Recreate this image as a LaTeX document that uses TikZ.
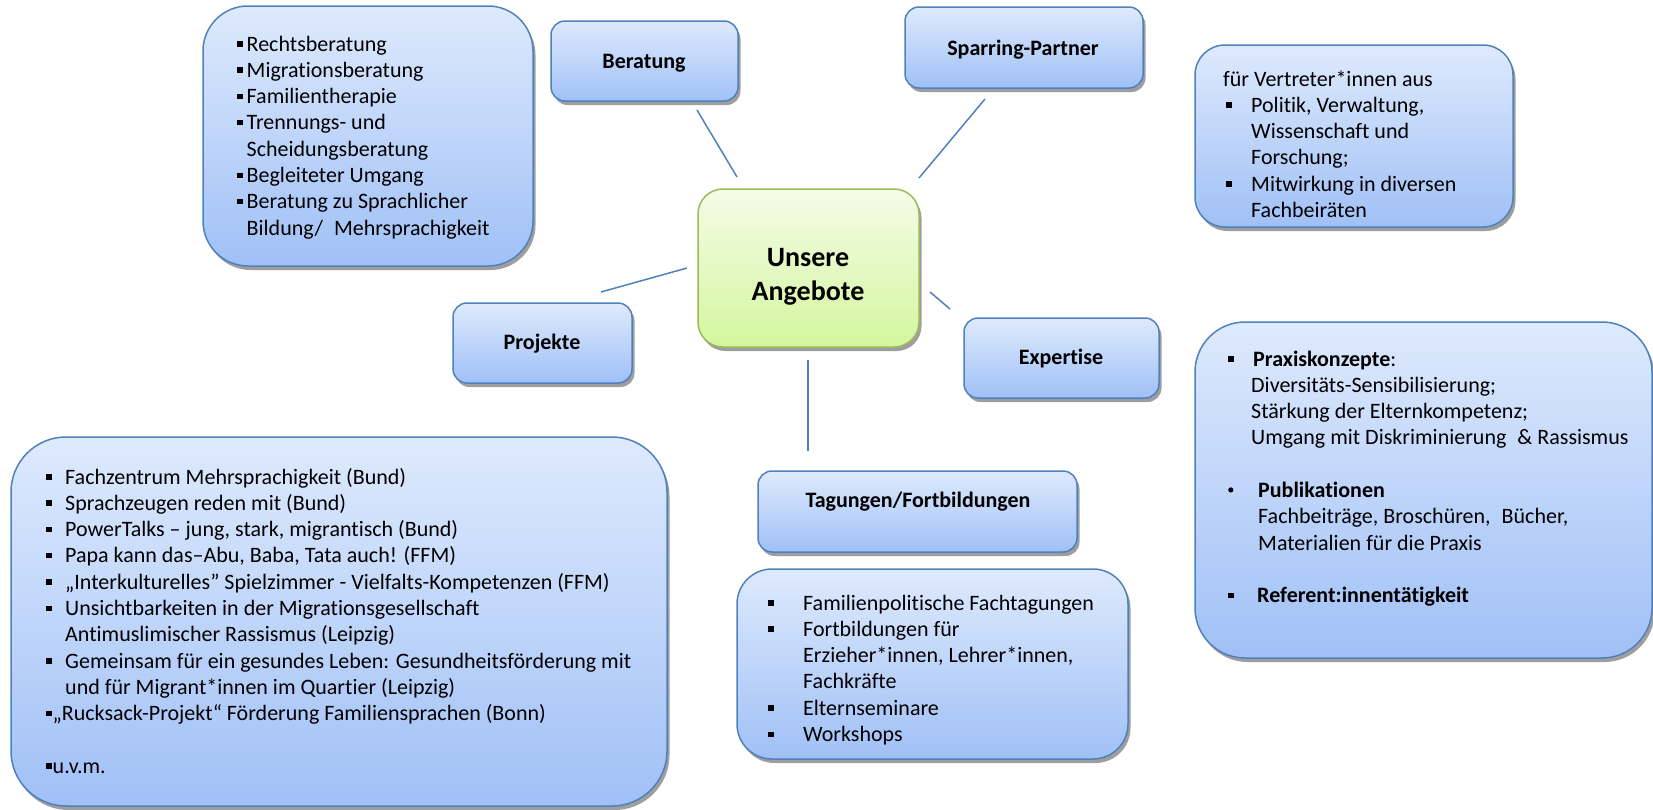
\documentclass[tikz,border=0pt]{standalone}
\usepackage{fontspec}
\setmainfont{Carlito}[Ligatures={NoCommon}]
\usetikzlibrary{shadows}

\definecolor{boxline}{RGB}{79,129,189}
\definecolor{boxtop}{RGB}{222,234,253}
\definecolor{boxbot}{RGB}{160,192,246}
\definecolor{greenline}{RGB}{155,187,89}
\definecolor{greentop}{RGB}{244,252,232}
\definecolor{greenbot}{RGB}{212,246,158}

% small square bullet, small round bullet and a top-aligned block of list text
\newcommand{\sqb}{\rule[4.5pt]{5.5pt}{5.5pt}}
\newcommand{\rdb}{\raisebox{5pt}{\tikz\fill (0,0) circle (2.6pt);}}
\newcommand{\listtext}[2]{\parbox[t]{#1}{\fontsize{22}{26.3}\selectfont #2}}

\tikzset{
  panel/.style={draw=boxline, line width=1.5pt, top color=boxtop, bottom color=boxbot,
    drop shadow={shadow xshift=2.5pt, shadow yshift=-4pt, fill=black, opacity=0.38},
    inner sep=0pt, outer sep=0pt},
  hub/.style={panel, draw=greenline, top color=greentop, bottom color=greenbot},
  caption/.style={font=\fontsize{22}{26.3}\selectfont\bfseries, inner sep=0pt},
  listnode/.style={anchor=base west, inner sep=0pt},
  link/.style={draw=boxline, line width=1.5pt}
}

\begin{document}
\begin{tikzpicture}[x=1pt, y=-1pt]
\useasboundingbox (0,0) rectangle (1653,809);

% boxes
\node[panel, minimum width=330pt, minimum height=260pt, rounded corners=45pt] (rechts) at (368,136) {};
\node[panel, minimum width=187pt, minimum height=80pt, rounded corners=14pt] (beratung) at (644.5,61) {};
\node[panel, minimum width=238pt, minimum height=81pt, rounded corners=14pt] (sparring) at (1024,47.5) {};
\node[panel, minimum width=318pt, minimum height=182pt, rounded corners=30pt] (vertreter) at (1354,136) {};
\node[hub, minimum width=221pt, minimum height=158pt, rounded corners=25pt] (hubbox) at (808.5,268) {};
\node[panel, minimum width=179pt, minimum height=80pt, rounded corners=14pt] (projekte) at (542.5,343) {};
\node[panel, minimum width=195pt, minimum height=80pt, rounded corners=14pt] (expertise) at (1061.5,358) {};
\node[panel, minimum width=457pt, minimum height=336pt, rounded corners=50pt] (praxis) at (1423.5,490) {};
\node[panel, minimum width=319pt, minimum height=81pt, rounded corners=14pt] (tagungen) at (917.5,511.5) {};
\node[panel, minimum width=391pt, minimum height=190pt, rounded corners=35pt] (fortb) at (932.5,664) {};
\node[panel, minimum width=656pt, minimum height=369pt, rounded corners=55pt] (projlist) at (339,621.5) {};

% spokes around the hub
\coordinate (b1) at (697,110);  \coordinate (b2) at (737,177);
\coordinate (s1) at (985,99);   \coordinate (s2) at (919,178);
\coordinate (p1) at (601,292);  \coordinate (p2) at (687,268);
\coordinate (e1) at (930,292);  \coordinate (e2) at (950,309);
\coordinate (t1) at (808,360);  \coordinate (t2) at (808,451);
\draw[link] (b1) -- (b2);
\draw[link] (s1) -- (s2);
\draw[link] (p1) -- (p2);
\draw[link] (e1) -- (e2);
\draw[link] (t1) -- (t2);

% captions
\node[inner sep=0pt, align=center, font=\fontsize{28}{33.5}\selectfont\bfseries] (hubtext) at (808,277) {Unsere\\Angebote};
\node[caption] (beratungtext) at (644,63) {Beratung};
\node[caption] (sparringtext) at (1023,50) {Sparring-Partner};
\node[caption] (projektetext) at (542,344) {Projekte};
\node[caption] (expertisetext) at (1061,359) {Expertise};
\node[caption] (tagungentext) at (918,502) {Tagungen/Fortbildungen};

% list contents
\node[listnode] (rechtslist) at (237,51) {\listtext{290pt}{%
\sqb\hspace{4pt}Rechtsberatung\\
\sqb\hspace{4pt}Migrationsberatung\\
\sqb\hspace{4pt}Familientherapie\\
\sqb\hspace{4pt}Trennungs- und\\
\hspace*{9.5pt}Scheidungsberatung\\
\sqb\hspace{4pt}Begleiteter Umgang\\
\sqb\hspace{4pt}Beratung zu Sprachlicher\\
\hspace*{9.5pt}Bildung/\hspace{0.5em}Mehrsprachigkeit}};

\node[listnode] (vertreterlist) at (1223,86) {\listtext{290pt}{%
für Vertreter*innen aus\\
\hspace*{3pt}\makebox[25pt][l]{\sqb}Politik, Verwaltung,\\
\hspace*{28pt}Wissenschaft und\\
\hspace*{28pt}Forschung;\\
\hspace*{3pt}\makebox[25pt][l]{\sqb}Mitwirkung in diversen\\
\hspace*{28pt}Fachbeiräten}};

\node[listnode] (praxislist) at (1228,366) {\listtext{420pt}{%
\makebox[25pt][l]{\sqb}\textbf{Praxiskonzepte}:\\
\hspace*{23pt}Diversitäts-Sensibilisierung;\\
\hspace*{23pt}Stärkung der Elternkompetenz;\\
\hspace*{23pt}Umgang mit Diskriminierung\hspace{0.5em}\& Rassismus\\
\mbox{}\\
\makebox[30pt][l]{\rdb}\textbf{Publikationen}\\
\hspace*{30pt}Fachbeiträge, Broschüren,\hspace{0.5em}Bücher,\\
\hspace*{30pt}Materialien für die Praxis\\
\mbox{}\\
\makebox[29pt][l]{\sqb}\textbf{Referent:innentätigkeit}}};

\node[listnode] (fortblist) at (768,610) {\listtext{350pt}{%
\makebox[35pt][l]{\sqb}Familienpolitische Fachtagungen\\
\makebox[35pt][l]{\sqb}Fortbildungen für\\
\hspace*{35pt}Erzieher*innen, Lehrer*innen,\\
\hspace*{35pt}Fachkräfte\\
\makebox[35pt][l]{\sqb}Elternseminare\\
\makebox[35pt][l]{\sqb}Workshops}};

\node[listnode] (projlisttext) at (46,484) {\listtext{610pt}{%
\makebox[19pt][l]{\sqb}Fachzentrum Mehrsprachigkeit (Bund)\\
\makebox[19pt][l]{\sqb}Sprachzeugen reden mit (Bund)\\
\makebox[19pt][l]{\sqb}PowerTalks – jung, stark, migrantisch (Bund)\\
\makebox[19pt][l]{\sqb}Papa kann das–Abu, Baba, Tata auch! (FFM)\\
\makebox[19pt][l]{\sqb}„Interkulturelles" Spielzimmer - Vielfalts-Kompetenzen (FFM)\\
\makebox[19pt][l]{\sqb}Unsichtbarkeiten in der Migrationsgesellschaft\\
\hspace*{19pt}Antimuslimischer Rassismus (Leipzig)\\
\makebox[19pt][l]{\sqb}Gemeinsam für ein gesundes Leben: Gesundheitsförderung mit\\
\hspace*{19pt}und für Migrant*innen im Quartier (Leipzig)\\
\sqb\hspace{1pt}„Rucksack-Projekt“ Förderung Familiensprachen (Bonn)\\
\mbox{}\\
\sqb\hspace{1pt}u.v.m.}};

\end{tikzpicture}
\end{document}
